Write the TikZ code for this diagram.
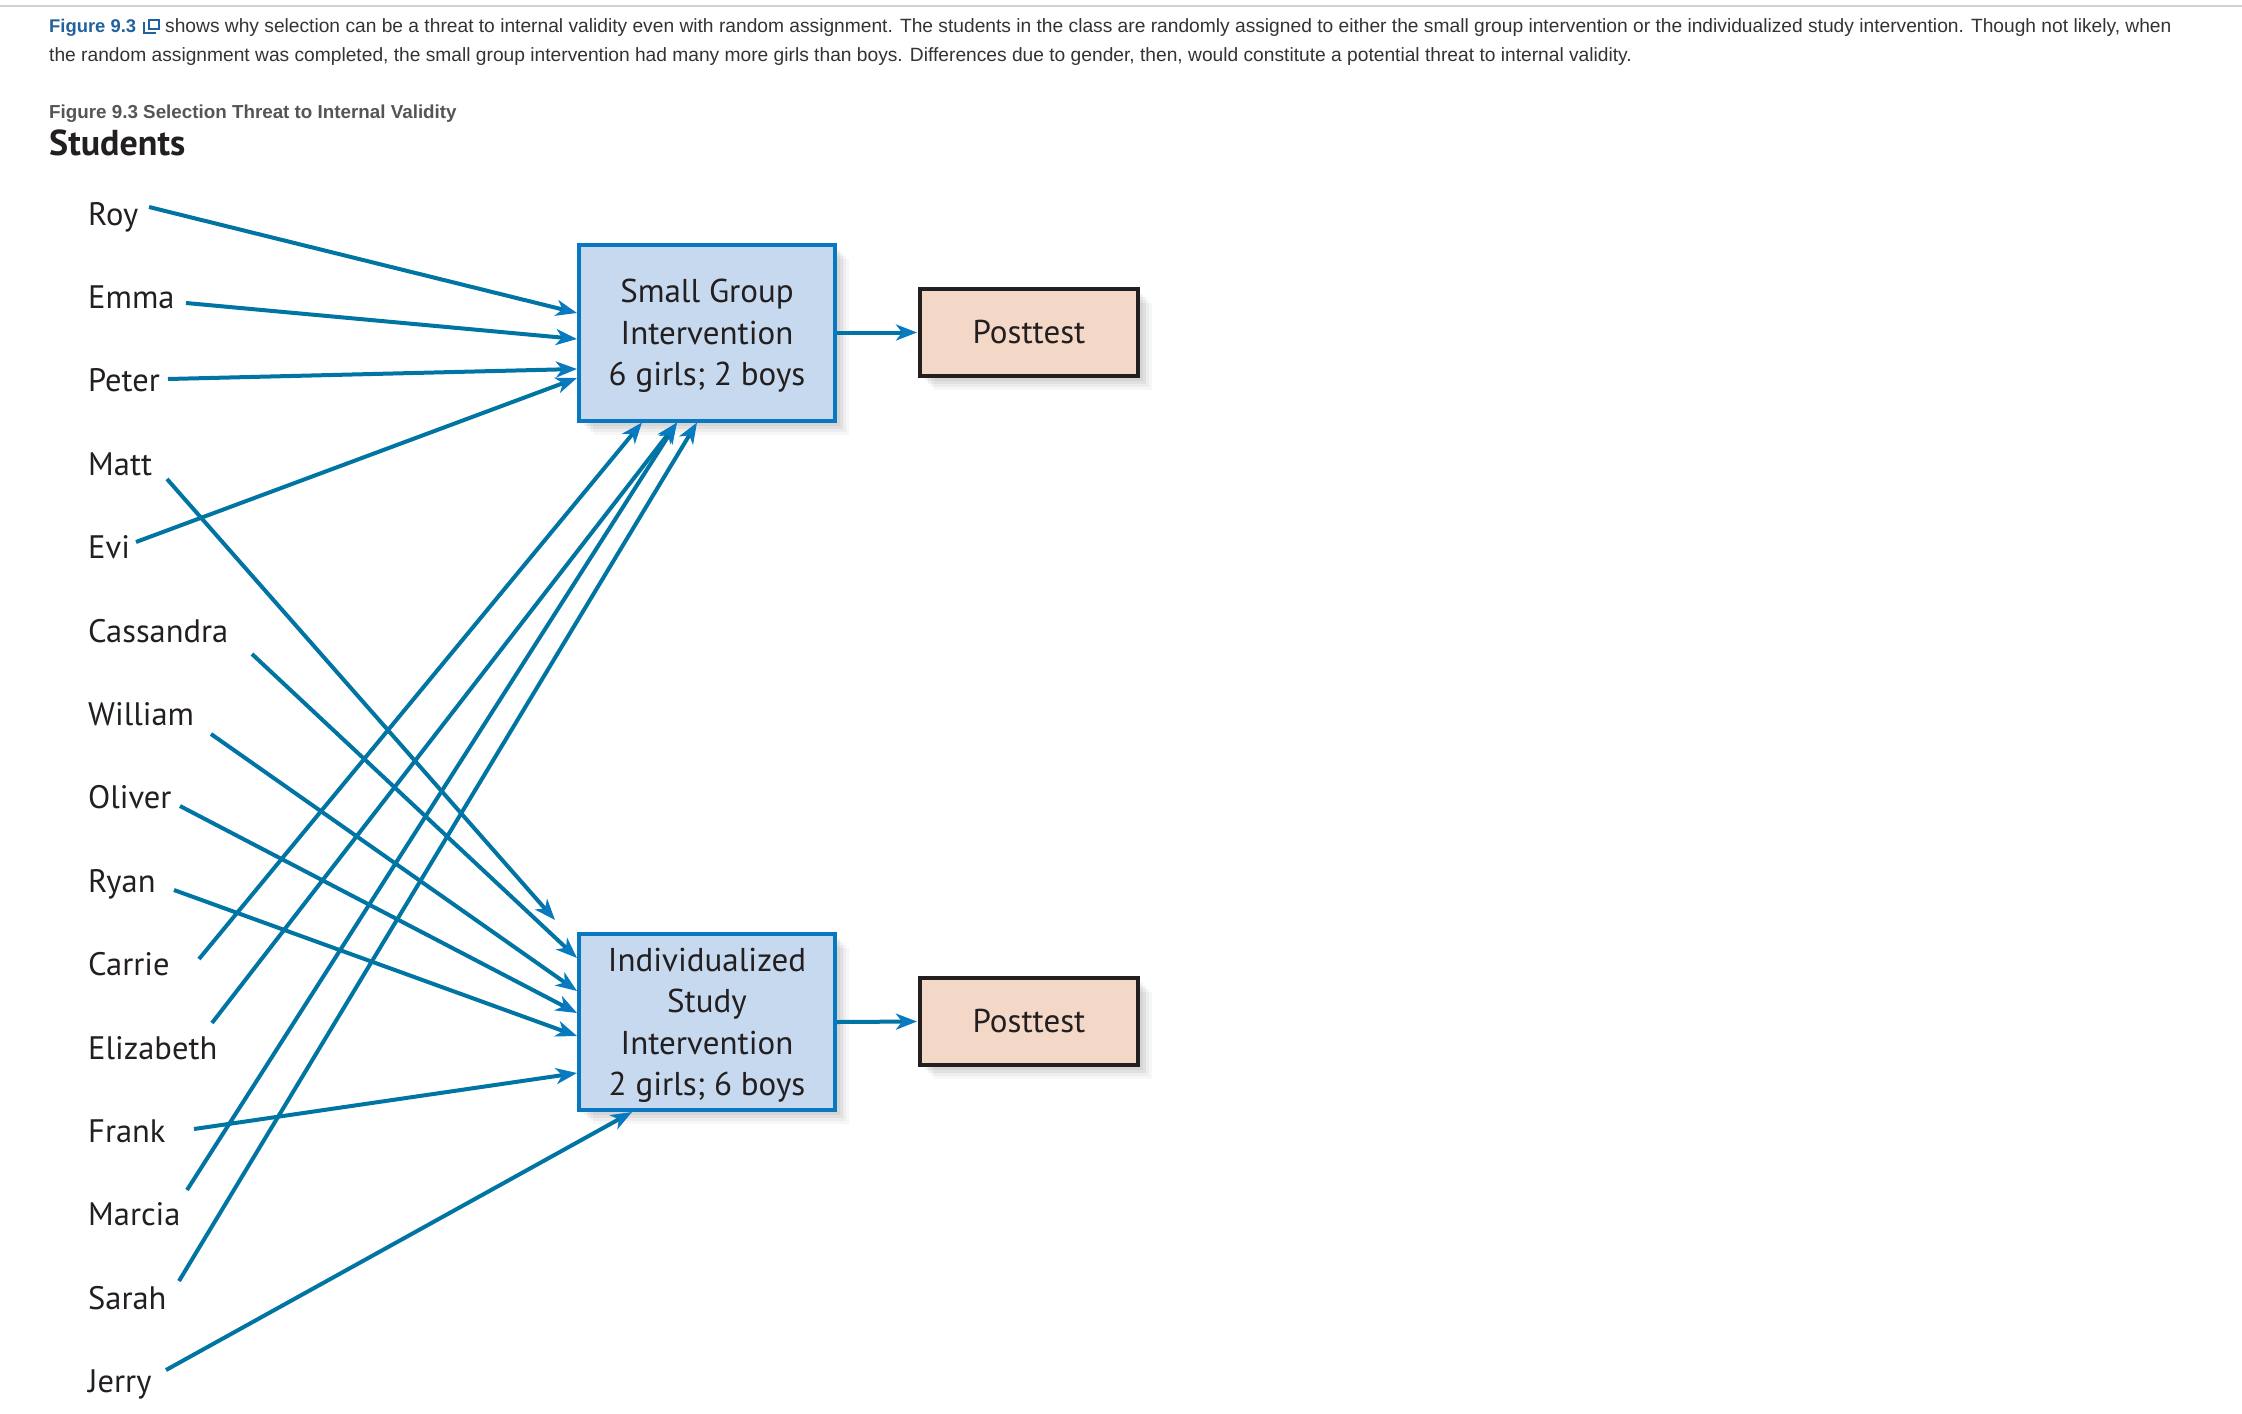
\documentclass[tikz,border=0pt]{standalone}
\usepackage{fontspec}
\setmainfont{PT Sans}
\newfontfamily\helv{Liberation Sans}
\usetikzlibrary{arrows.meta,shadows,calc}
\definecolor{boxfill}{RGB}{198,217,238}
\definecolor{boxline}{RGB}{10,120,192}
\definecolor{ptfill}{RGB}{243,216,199}
\definecolor{ptline}{RGB}{35,31,32}
\definecolor{lineblue}{RGB}{0,116,163}
\definecolor{tipblue}{RGB}{8,122,194}
\definecolor{inktext}{RGB}{35,31,32}
\definecolor{paratext}{RGB}{51,51,51}
\definecolor{linkblue}{RGB}{33,98,158}
\definecolor{capgrey}{RGB}{85,85,85}
\begin{document}
\begin{tikzpicture}[x=1pt,y=-1pt,
  namelbl/.style={anchor=base west, inner sep=0pt, text=inktext, font=\fontsize{32.5}{40}\selectfont},
  shade/.style={
    drop shadow={shadow xshift=5pt, shadow yshift=-5pt, opacity=0.05, fill=black},
    drop shadow={shadow xshift=8pt, shadow yshift=-8pt, opacity=0.05, fill=black},
    drop shadow={shadow xshift=11pt, shadow yshift=-11pt, opacity=0.04, fill=black},
    drop shadow={shadow xshift=14pt, shadow yshift=-14pt, opacity=0.03, fill=black}},
  ivbox/.style={draw=boxline, fill=boxfill, line width=4pt, minimum width=256pt, minimum height=176pt, inner sep=0pt, align=center, text=inktext, text depth=0pt, font=\fontsize{33}{41.5}\selectfont, shade},
  ptbox/.style={draw=ptline, fill=ptfill, line width=4pt, minimum width=218pt, minimum height=87pt, inner sep=0pt, text=inktext, font=\fontsize{33}{40}\selectfont, shade},
  arr/.style={draw=lineblue, line width=4pt, -{Stealth[length=21pt,width=16pt,inset=6pt,color=tipblue]}},
  para/.style={anchor=base west, inner sep=0pt, text=paratext, font=\helv\fontsize{19.2}{23}\selectfont}
]
\useasboundingbox (0,0) rectangle (2242,1413);
\fill[white] (0,0) rectangle (2242,1413);

% header
\draw[black!18, line width=2pt] (0,6) -- (2242,6);
\node[para, text=linkblue, font=\helv\bfseries\fontsize{18.4}{23}\selectfont] (figref) at (49,33) {Figure 9.3};
\draw[linkblue, line width=2pt] (149,20) rectangle (159,29);
\draw[linkblue, line width=2pt] (144,22) -- (144,33) -- (156,33);
\node[para] (para1) at (165,33) {shows why selection can be a threat to internal validity even with random assignment. The students in the class are randomly assigned to either the small group intervention or the individualized study intervention. Though not likely, when};
\node[para] (para2) at (49,62) {the random assignment was completed, the small group intervention had many more girls than boys. Differences due to gender, then, would constitute a potential threat to internal validity.};
\node[para, text=capgrey, font=\helv\bfseries\fontsize{18.8}{22}\selectfont] (caption) at (49,118) {Figure 9.3 Selection Threat to Internal Validity};
\node[anchor=base west, inner sep=0pt, text=inktext, font=\bfseries\fontsize{36}{42}\selectfont] (students) at (49,155) {Students};

% names
\foreach \n [count=\i from 0] in {Roy,Emma,Peter,Matt,Evi,Cassandra,William,Oliver,Ryan,Carrie,Elizabeth,Frank,Marcia,Sarah,Jerry}
  \node[namelbl] (\n) at (88,225+83.4*\i) {\n};

% boxes
\node[ivbox] (sg) at (707,332.5) {Small Group\\Intervention\\6 girls; 2 boys};
\node[ivbox] (ind) at (707,1022) {Individualized\\Study\\Intervention\\2 girls; 6 boys};
\node[ptbox] (pt1) at (1029,332.5) {Posttest};
\node[ptbox] (pt2) at (1029,1021.5) {Posttest};

% start points of the connectors
\coordinate (sRoy) at (149,207);
\coordinate (sEmma) at (186,303);
\coordinate (sPeter) at (168,379);
\coordinate (sMatt) at (167,479);
\coordinate (sEvi) at (136,542);
\coordinate (sCassandra) at (252,654);
\coordinate (sWilliam) at (211,734);
\coordinate (sOliver) at (180,806);
\coordinate (sRyan) at (174,890);
\coordinate (sCarrie) at (199,959);
\coordinate (sElizabeth) at (212,1023);
\coordinate (sFrank) at (194,1129);
\coordinate (sMarcia) at (187,1190);
\coordinate (sSarah) at (179,1281);
\coordinate (sJerry) at (166,1370);

% to small group
\draw[arr] (sRoy) -- (sg.west |- 0,313);
\draw[arr] (sEmma) -- (sg.west |- 0,339);
\draw[arr] (sPeter) -- (sg.west |- 0,369);
\draw[arr] (sEvi) -- (sg.west |- 0,378);
\draw[arr] (sCarrie) -- (642,0 |- sg.south);
\draw[arr] (sElizabeth) -- (677,0 |- sg.south);
\draw[arr] (sMarcia) -- (677,0 |- sg.south);
\draw[arr] (sSarah) -- (697,0 |- sg.south);

% to individualized
\draw[arr] (sMatt) -- ($(ind.north west)+(-22,-12)$);
\draw[arr] (sCassandra) -- (ind.west |- 0,958);
\draw[arr] (sWilliam) -- (ind.west |- 0,991);
\draw[arr] (sOliver) -- (ind.west |- 0,1013);
\draw[arr] (sRyan) -- (ind.west |- 0,1036);
\draw[arr] (sFrank) -- (ind.west |- 0,1073);
\draw[arr] (sJerry) -- (632,0 |- ind.south);

% to posttests
\draw[arr, shorten >=1pt] (sg.east) -- (pt1.west);
\draw[arr, shorten >=1pt] (ind.east) -- (pt2.west);
\end{tikzpicture}
\end{document}
